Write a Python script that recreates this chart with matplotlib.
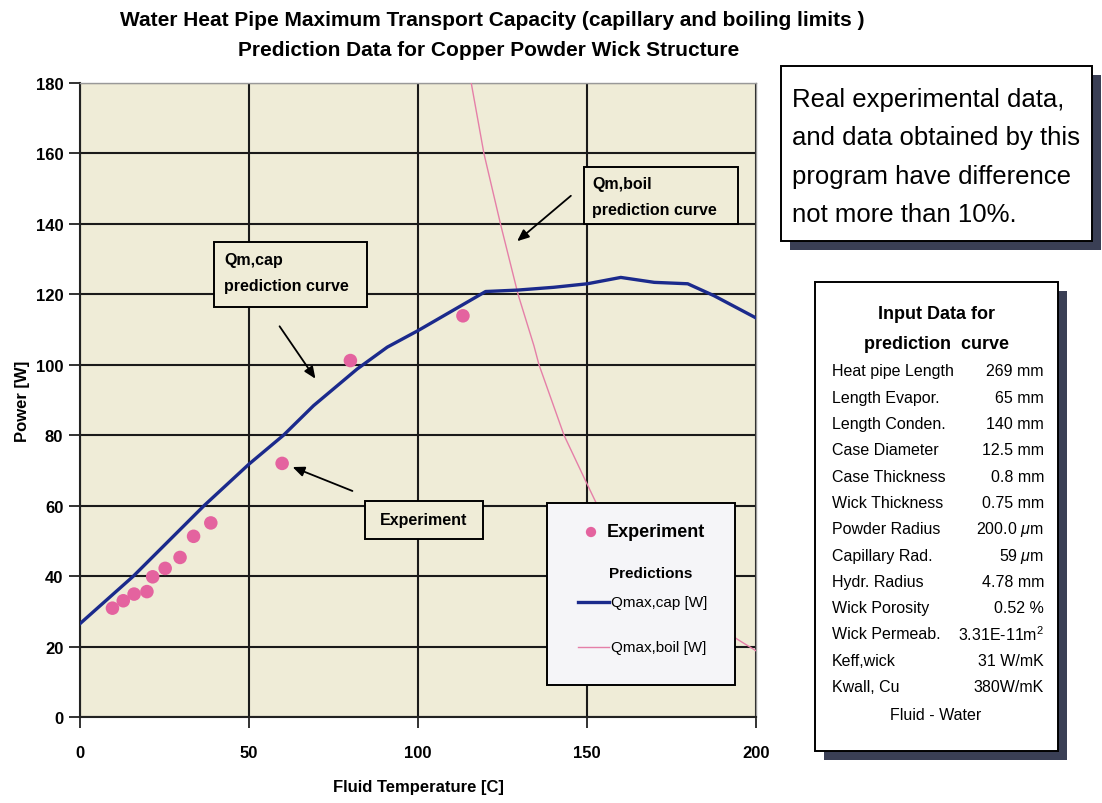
import matplotlib
matplotlib.use("Agg")
import matplotlib.pyplot as plt
from matplotlib.patches import Rectangle

# ---------------- data ----------------
exp_temp = [9.6, 12.8, 16.0, 19.8, 21.5, 25.2, 29.6, 33.6, 38.7, 59.8, 80.0, 113.3]
exp_power = [30.9, 33.0, 34.9, 35.6, 39.8, 42.2, 45.3, 51.3, 55.1, 72.0, 101.2, 113.9]

cap_temp = [0, 15.8, 36.7, 50, 60.2, 69.1, 82, 90.9, 100, 120, 129.4, 140.2, 150.1, 160,
            169.9, 179.8, 187.6, 200]
cap_power = [26.5, 40, 60, 71.8, 80, 88.4, 98.8, 105.0, 109.7, 120.8, 121.2, 122.0, 123.0,
             124.8, 123.4, 123.0, 119.6, 113.3]

boil_temp = [115.0, 119.5, 124.4, 129.6, 134.3, 135.8, 143.2, 149.6, 153.1, 160, 170, 180,
             190, 194.6, 200]
boil_power = [184, 160, 140, 120, 105.4, 100, 80, 67, 60, 50, 40, 32, 25, 22, 18.8]

x_ticks = [0, 50, 100, 150, 200]
y_ticks = [0, 20, 40, 60, 80, 100, 120, 140, 160, 180]

title_lines = ["Water Heat Pipe Maximum Transport Capacity (capillary and boiling limits )",
               "Prediction Data for Copper Powder Wick Structure"]
note_lines = ["Real experimental data,", "and data obtained by this",
              "program have difference", "not more than 10%."]
param_names = ["Heat pipe Length", "Length Evapor.", "Length Conden.", "Case Diameter",
               "Case Thickness", "Wick Thickness", "Powder Radius", "Capillary Rad.",
               "Hydr. Radius", "Wick Porosity", "Wick Permeab.", "Keff,wick", "Kwall, Cu"]
param_values = ["269 mm", "65 mm", "140 mm", "12.5 mm", "0.8 mm", "0.75 mm", "200.0 $\\mu$m",
                "59 $\\mu$m", "4.78 mm", "0.52 %", "3.31E-11m$^2$", "31 W/mK", "380W/mK"]

# ---------------- figure ----------------
W, H = 1102, 804
fig = plt.figure(figsize=(W / 100, H / 100), dpi=100)
fig.patch.set_facecolor("white")

SANS = ["Liberation Sans", "DejaVu Sans"]
plt.rcParams["font.family"] = SANS
plt.rcParams["mathtext.fontset"] = "custom"
plt.rcParams["mathtext.rm"] = "Liberation Sans"
plt.rcParams["mathtext.it"] = "Liberation Sans:italic"

L, R, T, B = 80, 756, 84, 718
ax = fig.add_axes([L / W, 1 - B / H, (R - L) / W, (B - T) / H])
bg = "#efecd7"
ax.set_facecolor(bg)
ax.set_xlim(0, 200)
ax.set_ylim(0, 180)
ax.set_xticks(x_ticks)
ax.set_yticks(y_ticks)
ax.grid(True, color="#1a1a1a", lw=1.5)
ax.set_axisbelow(True)
for s in ["left", "bottom"]:
    ax.spines[s].set_color("#222222")
    ax.spines[s].set_linewidth(1.5)
for s in ["top", "right"]:
    ax.spines[s].set_color("#999999")
    ax.spines[s].set_linewidth(1.0)
ax.tick_params(direction="out", length=8, width=1.3, color="#222222")
for lab in ax.get_xticklabels() + ax.get_yticklabels():
    lab.set_fontweight("bold")
    lab.set_fontsize(12)
ax.tick_params(axis="x", pad=12)
ax.tick_params(axis="y", pad=4)

ax.plot(boil_temp, boil_power, color="#e57fa8", lw=1.0, zorder=3)
ax.plot(cap_temp, cap_power, color="#1b2a8c", lw=2.4, zorder=4)
ax.scatter(exp_temp, exp_power, s=95, color="#e4639f", zorder=5, edgecolors="none")

ax.set_xlabel("Fluid Temperature [C]", fontsize=12, fontweight="bold", labelpad=14)
ax.set_ylabel("Power [W]", fontsize=12, fontweight="bold", labelpad=4)

# ---------------- overlay in pixel coordinates ----------------
ov = fig.add_axes([0, 0, 1, 1])
ov.set_xlim(0, W)
ov.set_ylim(H, 0)
ov.set_axis_off()

# title
ov.text(492, 20, title_lines[0], ha="center", va="center", fontsize=15, fontweight="bold")
ov.text(489, 50, title_lines[1], ha="center", va="center", fontsize=15, fontweight="bold")

def box(x0, y0, x1, y1, fc, shadow=False, lw=1.4, z=5):
    if shadow:
        ov.add_patch(Rectangle((x0 + 9, y0 + 9), x1 - x0, y1 - y0, facecolor="#3a3f55",
                               edgecolor="none", zorder=z - 1))
    ov.add_patch(Rectangle((x0, y0), x1 - x0, y1 - y0, facecolor=fc, edgecolor="black",
                           lw=lw, zorder=z))

# annotation boxes
box(214, 243, 367, 308, bg)
ov.text(224, 261, "Qm,cap", fontsize=11.5, fontweight="bold", va="center", zorder=6)
ov.text(224, 287, "prediction curve", fontsize=11.5, fontweight="bold", va="center", zorder=6)

box(584, 168, 738, 225, bg)
ov.text(592, 185, "Qm,boil", fontsize=11.5, fontweight="bold", va="center", zorder=6)
ov.text(592, 210, "prediction curve", fontsize=11.5, fontweight="bold", va="center", zorder=6)

box(365, 502, 483, 540, bg)
ov.text(424, 521, "Experiment", fontsize=11.5, fontweight="bold", ha="center", va="center",
        zorder=6)

arrow = dict(arrowstyle="-|>,head_length=0.7,head_width=0.3", color="black", lw=1.3)
ov.annotate("", xy=(317, 382), xytext=(278, 325), arrowprops=arrow, zorder=7)
ov.annotate("", xy=(515, 244), xytext=(573, 195), arrowprops=arrow, zorder=7)
ov.annotate("", xy=(290, 467), xytext=(355, 493), arrowprops=arrow, zorder=7)

# legend
box(547, 504, 735, 686, "#f5f5f8", z=8)
ov.scatter([591], [533], s=55, color="#e4639f", zorder=9, edgecolors="none")
ov.text(607, 533, "Experiment", fontsize=13, fontweight="bold", va="center", zorder=9)
ov.text(609, 574, "Predictions", fontsize=11, fontweight="bold", va="center", zorder=9)
ov.plot([578, 609], [603, 603], color="#1b2a8c", lw=2.4, zorder=9)
ov.text(611, 603, "Qmax,cap [W]", fontsize=11, va="center", zorder=9)
ov.plot([578, 609], [648, 648], color="#e57fa8", lw=1.0, zorder=9)
ov.text(611, 648, "Qmax,boil [W]", fontsize=11, va="center", zorder=9)

# note box
box(781, 67, 1092, 242, "white", shadow=True)
for i, line in enumerate(note_lines):
    ov.text(792, 100 + i * 38.5, line, fontsize=18.5, va="center", zorder=6)

# input table
box(815, 283, 1058, 752, "white", shadow=True)
ov.text(936, 315, "Input Data for", fontsize=13, fontweight="bold", ha="center",
        va="center", zorder=6)
ov.text(936, 345, "prediction  curve", fontsize=13, fontweight="bold", ha="center",
        va="center", zorder=6)
for i, (n, v) in enumerate(zip(param_names, param_values)):
    y = 372 + i * 26.3
    ov.text(832, y, n, fontsize=11.5, va="center", zorder=6)
    ov.text(1044, y, v, fontsize=11.5, va="center", ha="right", zorder=6)
ov.text(936, 716, "Fluid - Water", fontsize=11.5, ha="center", va="center", zorder=6)

fig.savefig("out.png", dpi=100, facecolor="white")
